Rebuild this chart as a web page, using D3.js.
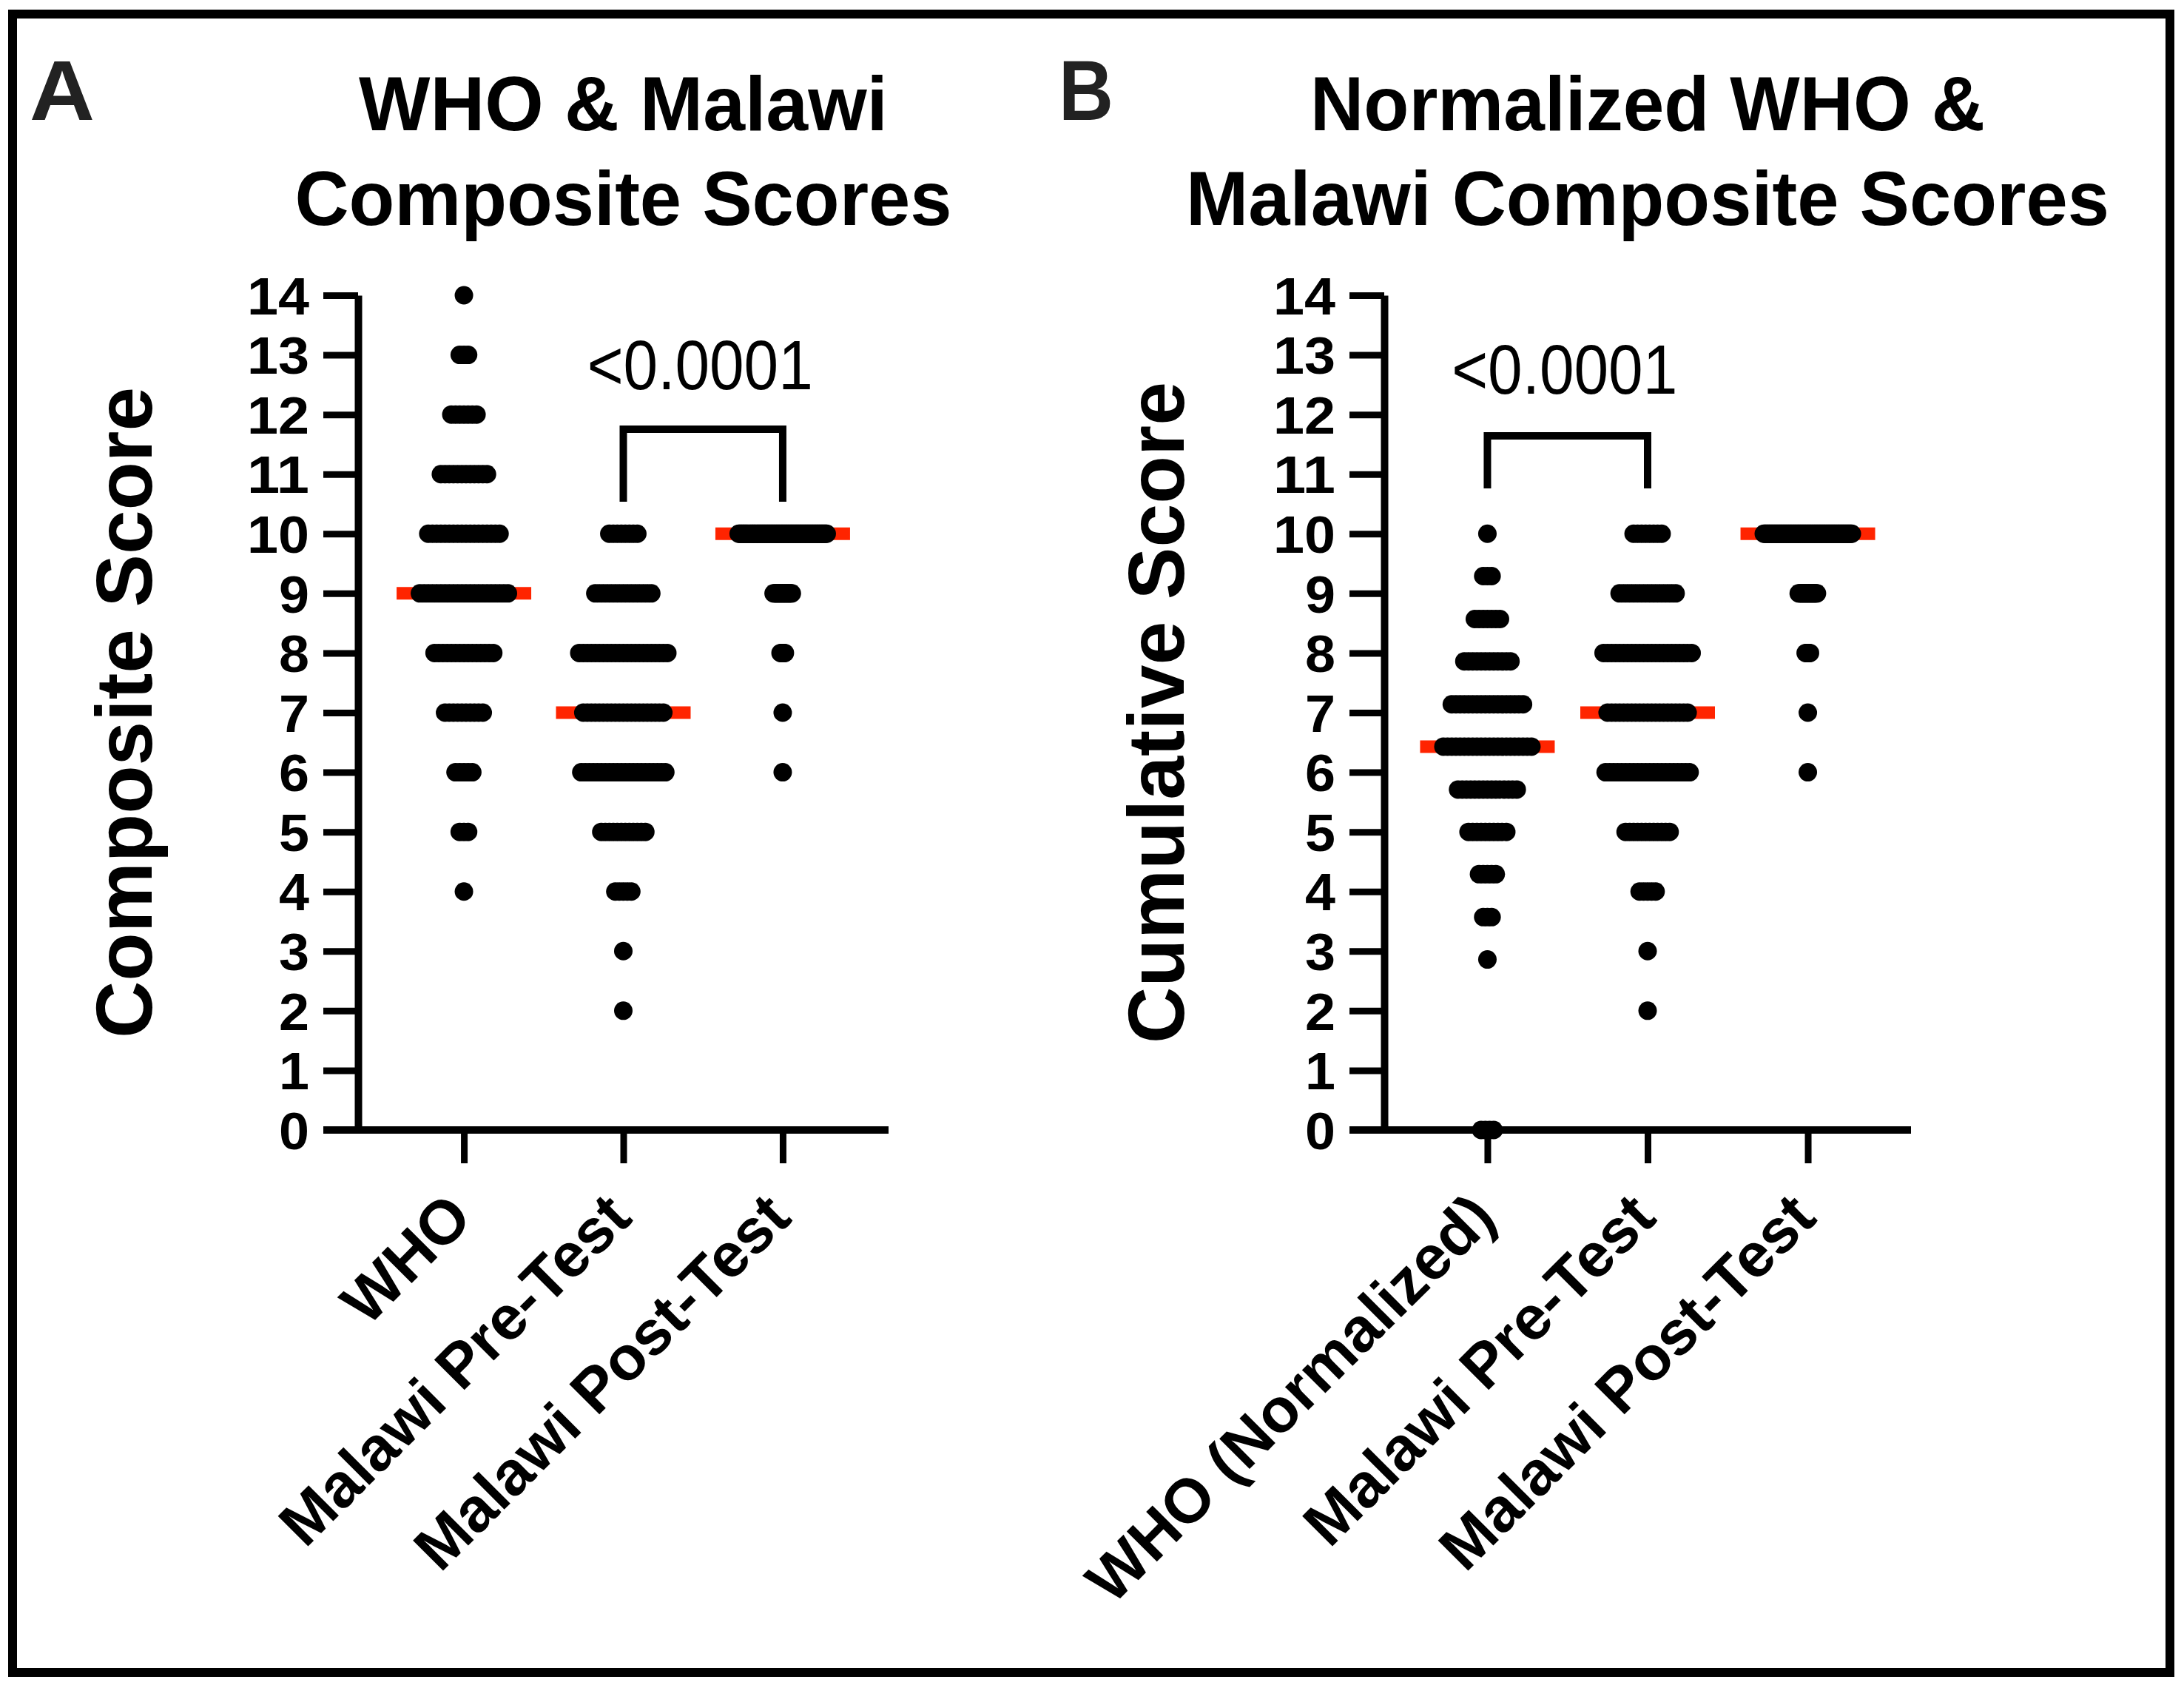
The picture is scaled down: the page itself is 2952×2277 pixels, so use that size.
<!DOCTYPE html>
<html>
<head>
<meta charset="utf-8">
<script src="https://cdn.jsdelivr.net/npm/d3@7"></script>
<style>
  body { margin: 0; background: #fff; }
  text { font-family: "Liberation Sans", Arial, Helvetica, sans-serif; }
</style>
</head>
<body>
<svg id="chart"></svg>
<script>
const width = 2952;
const height = 2277;

// Categories for the two panels
const categoriesA = ["WHO", "Malawi Pre-Test", "Malawi Post-Test"];
const categoriesB = ["WHO (Normalized)", "Malawi Pre-Test", "Malawi Post-Test"];

// Number of participants at each score (read from the dot rows)
const whoScores = [14, 13, 12, 11, 10, 9, 8, 7, 6, 5, 4];
const whoCounts = [1, 3, 7, 12, 18, 22, 15, 10, 5, 3, 1];
const whoNormScores = [10, 9.29, 8.57, 7.86, 7.14, 6.43, 5.71, 5, 4.29, 3.57, 2.86, 0];
const whoNormCounts = [1, 3, 7, 12, 18, 22, 15, 10, 5, 3, 1, 4];
const preScores = [10, 9, 8, 7, 6, 5, 4, 3, 2];
const preCounts = [8, 15, 23, 21, 22, 12, 5, 1, 1];
const postScores = [10, 9, 8, 7, 6];
const postCounts = [83, 18, 5, 1, 1];

// Axis ticks and annotations
const yTicks = [0, 1, 2, 3, 4, 5, 6, 7, 8, 9, 10, 11, 12, 13, 14];
const pValueA = "<0.0001";
const pValueB = "<0.0001";

const svg = d3.select('#chart')
  .attr('width', width)
  .attr('height', height);

svg.append('rect')
  .attr('x', 0).attr('y', 0)
  .attr('width', width).attr('height', height)
  .attr('fill', '#fff');

// outer frame
svg.append('rect')
  .attr('x', 17).attr('y', 19)
  .attr('width', 2916).attr('height', 2241)
  .attr('fill', 'none')
  .attr('stroke', '#000')
  .attr('stroke-width', 12);

const y = d3.scaleLinear().domain([0, 14]).range([1527, 399]);

const panels = [
  {
    letter: 'A', letterX: 40, letterLen: 88,
    title: ['WHO & Malawi', 'Composite Scores'], titleLen: [715, 888],
    yTitle: 'Composite Score', yTitleX: 205, yTitleLen: 880,
    cats: categoriesA,
    groups: [[whoScores, whoCounts], [preScores, preCounts], [postScores, postCounts]],
    axisX: 484, axisEnd: 1201, pad: 0.664,
    compare: [1, 2], p: pValueA, barY: 580, legY: 678, pY: 526
  },
  {
    letter: 'B', letterX: 1431, letterLen: 74,
    title: ['Normalized WHO &', 'Malawi Composite Scores'], titleLen: [912, 1248],
    yTitle: 'Cumulative Score', yTitleX: 1600, yTitleLen: 894,
    cats: categoriesB,
    groups: [[whoNormScores, whoNormCounts], [preScores, preCounts], [postScores, postCounts]],
    axisX: 1871, axisEnd: 2583, pad: 0.644,
    compare: [0, 1], p: pValueB, barY: 589, legY: 660, pY: 532
  }
];

const dotR = 12.5;
const rowMax = 144;   // widest row of dots in a column
const tickLen = 47;

function drawPanel(p) {
  const g = svg.append('g');
  const x = d3.scalePoint().domain(p.cats).range([p.axisX, p.axisEnd]).padding(p.pad);

  // panel letter
  g.append('text')
    .attr('x', p.letterX).attr('y', 162)
    .attr('font-size', 115).attr('font-weight', 'bold').attr('fill', '#222')
    .attr('textLength', p.letterLen).attr('lengthAdjust', 'spacingAndGlyphs')
    .text(p.letter);

  // two-line title
  const cx = x(p.cats[1]);
  p.title.forEach((line, i) => {
    g.append('text')
      .attr('x', cx).attr('y', i === 0 ? 176 : 304)
      .attr('text-anchor', 'middle')
      .attr('font-size', 104).attr('font-weight', 'bold')
      .attr('textLength', p.titleLen[i]).attr('lengthAdjust', 'spacingAndGlyphs')
      .text(line);
  });

  // y axis
  const yAxis = g.append('g')
    .attr('transform', `translate(${p.axisX},0)`)
    .call(d3.axisLeft(y).tickValues(yTicks).tickFormat(d3.format('d'))
      .tickSize(tickLen).tickPadding(19).tickSizeOuter(0));
  yAxis.attr('font-size', 70).attr('font-weight', 'bold')
    .attr('font-family', '"Liberation Sans", Arial, sans-serif');
  yAxis.select('.domain').attr('stroke', '#000').attr('stroke-width', 10);
  yAxis.selectAll('.tick line').attr('stroke', '#000').attr('stroke-width', 9);
  yAxis.selectAll('.tick text')
    .attr('fill', '#000')
    .attr('dy', '0.36em')
    .attr('textLength', d => d >= 10 ? 84 : 41)
    .attr('lengthAdjust', 'spacingAndGlyphs');

  // x axis
  g.append('line')
    .attr('x1', p.axisX - tickLen).attr('x2', p.axisEnd)
    .attr('y1', y(0)).attr('y2', y(0))
    .attr('stroke', '#000').attr('stroke-width', 10);
  const xAxis = g.append('g')
    .attr('transform', `translate(0,${y(0)})`)
    .call(d3.axisBottom(x).tickSize(45).tickSizeOuter(0));
  xAxis.select('.domain').remove();
  xAxis.attr('font-size', 84).attr('font-weight', 'bold')
    .attr('font-family', '"Liberation Sans", Arial, sans-serif');
  xAxis.selectAll('.tick line').attr('stroke', '#000').attr('stroke-width', 9);
  xAxis.selectAll('.tick text')
    .attr('fill', '#000')
    .attr('y', 0).attr('dy', 0)
    .attr('text-anchor', 'end')
    .attr('transform', 'translate(14,122) rotate(-45)');

  // y axis title
  g.append('text')
    .attr('transform', `translate(${p.yTitleX},${(y(0) + y(14)) / 2}) rotate(-90)`)
    .attr('text-anchor', 'middle')
    .attr('font-size', 108).attr('font-weight', 'bold')
    .attr('textLength', p.yTitleLen).attr('lengthAdjust', 'spacingAndGlyphs')
    .text(p.yTitle);

  // dots and medians
  p.groups.forEach(([scores, counts], i) => {
    const gx = x(p.cats[i]);
    const nMax = d3.max(counts);
    const step = nMax > 1 ? (rowMax - 2 * dotR) / (nMax - 1) : 0;
    const values = [];
    const pts = [];
    scores.forEach((s, j) => {
      const n = counts[j];
      for (let k = 0; k < n; k++) {
        values.push(s);
        pts.push({ v: s, dx: (k - (n - 1) / 2) * step });
      }
    });
    const med = d3.median(values);

    g.append('line')
      .attr('x1', gx - 91).attr('x2', gx + 91)
      .attr('y1', y(med)).attr('y2', y(med))
      .attr('stroke', '#ff2400').attr('stroke-width', 17);

    g.selectAll(null)
      .data(pts)
      .enter().append('circle')
      .attr('cx', d => gx + d.dx)
      .attr('cy', d => y(d.v))
      .attr('r', dotR)
      .attr('fill', '#000');
  });

  // significance bracket
  const x1 = x(p.cats[p.compare[0]]);
  const x2 = x(p.cats[p.compare[1]]);
  g.append('path')
    .attr('d', `M${x1},${p.legY}V${p.barY}H${x2}V${p.legY}`)
    .attr('fill', 'none')
    .attr('stroke', '#000')
    .attr('stroke-width', 10);
  g.append('text')
    .attr('x', (x1 + x2) / 2 - 4).attr('y', p.pY)
    .attr('text-anchor', 'middle')
    .attr('font-size', 95)
    .attr('textLength', 305).attr('lengthAdjust', 'spacingAndGlyphs')
    .text(p.p);
}

panels.forEach(drawPanel);
</script>
</body>
</html>
